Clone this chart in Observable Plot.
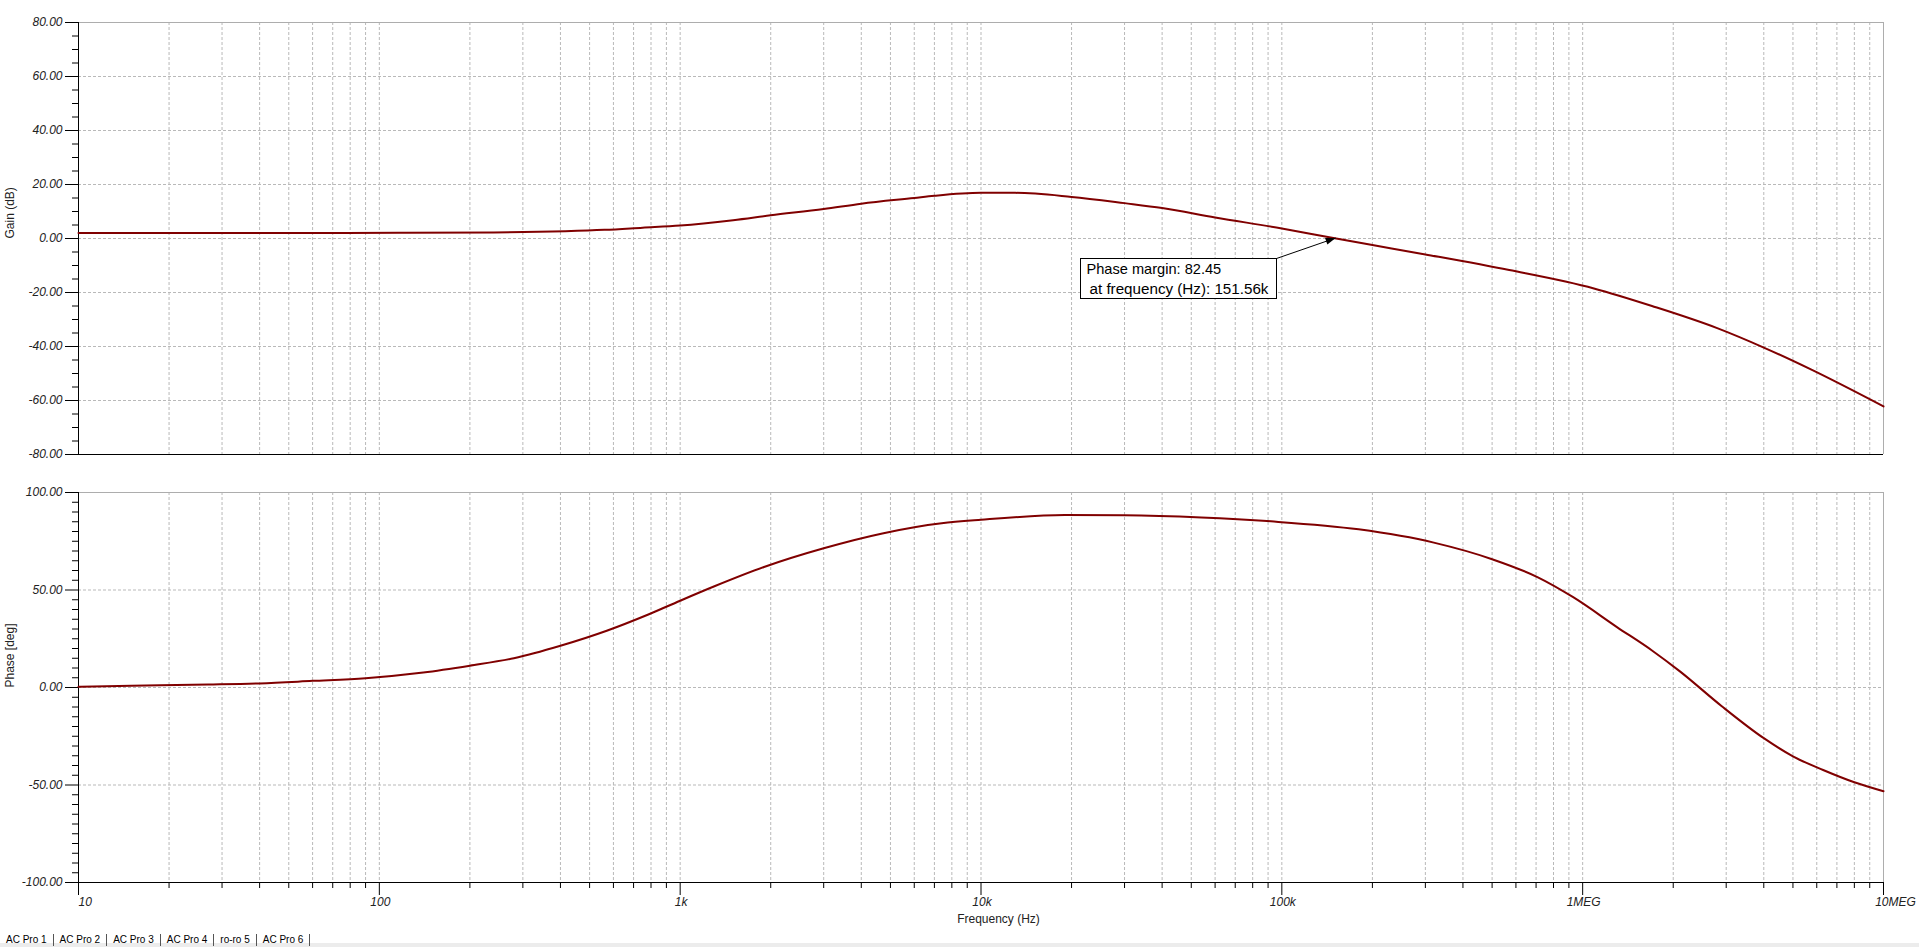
<!DOCTYPE html>
<html>
<head>
<meta charset="utf-8">
<script src="https://cdn.jsdelivr.net/npm/d3@7"></script>
<script src="https://cdn.jsdelivr.net/npm/@observablehq/plot@0.6"></script>
<style>
html, body { margin: 0; padding: 0; background: #fff; width: 1919px; height: 947px; overflow: hidden; }
#wrap { position: relative; width: 1919px; height: 947px; }
#topline { position: absolute; left: 0; top: 0; width: 1919px; height: 1px; background: #a0a0a0; }
#gainPanel, #phasePanel { position: absolute; left: 0; }
#gainPanel { top: 0; }
#phasePanel { top: 470px; }
#band { position: absolute; left: 0; top: 943px; width: 1919px; height: 4px; background: #ececec; }
#tabs { position: absolute; left: 0; top: 934px; height: 13px; overflow: hidden; font: 10px "Liberation Sans", Arial, sans-serif; color: #000; white-space: nowrap; }
#tabs span { display: inline-block; padding: 0 6px; border-right: 1px solid #555; line-height: 12px; }
</style>
</head>
<body>
<div id="wrap">
  <div id="topline"></div>
  <div id="gainPanel"></div>
  <div id="phasePanel"></div>
  <div id="band"></div>
  <div id="tabs"><span>AC Pro 1</span><span>AC Pro 2</span><span>AC Pro 3</span><span>AC Pro 4</span><span>ro-ro 5</span><span>AC Pro 6</span></div>
</div>
<script>
// ---- data ----
const gainFreq = [10, 30, 60, 117, 240, 415, 560, 750, 1000, 1500, 2000, 3000, 4000, 6000, 7000, 10000, 13000, 20000, 30000, 40000, 60000, 100000, 151560, 200000, 300000, 570000, 1090000, 1700000, 2800000, 4000000, 5760000, 10000000];
const gainDb   = [2.0, 2.0, 2.05, 2.1, 2.25, 2.7, 3.2, 4.0, 4.8, 6.8, 8.6, 10.9, 12.9, 15.0, 15.8, 16.9, 16.9, 15.4, 13.1, 11.3, 7.8, 3.7, 0.0, -2.4, -5.9, -11.7, -18.5, -25.0, -33.2, -40.4, -48.6, -62.2];

const phaseFreq = [10, 15, 27, 40, 60, 90, 140, 200, 280, 400, 570, 780, 1000, 1300, 1900, 3000, 4700, 7400, 10000, 19000, 30000, 54000, 92000, 180000, 320000, 500000, 710000, 930000, 1300000, 1700000, 2100000, 2900000, 4000000, 5000000, 6300000, 8000000, 10000000];
const phaseDeg  = [0.4, 0.9, 1.5, 2.1, 3.4, 4.8, 7.7, 11.2, 15.0, 21.4, 29.1, 37.3, 44.5, 51.9, 61.8, 71.4, 79.0, 84.2, 86.0, 88.4, 88.3, 87.2, 85.2, 81.1, 74.3, 65.8, 56.5, 46.3, 31.0, 19.0, 8.4, -9.6, -26.0, -35.3, -42.3, -48.6, -53.2];

const xMajorTicks = [10, 100, 1000, 10000, 100000, 1000000, 10000000];
const xTickLabels = ["10", "100", "1k", "10k", "100k", "1MEG", "10MEG"];
const xDomain = [10, 10000000];

const gainDomain = [-80, 80];
const gainMajor = [-80, -60, -40, -20, 0, 20, 40, 60, 80];
const gainMinorStep = 5;

const phaseDomain = [-100, 100];
const phaseMajor = [-100, -50, 0, 50, 100];
const phaseMinorStep = 5;

const pmLabel1 = "Phase margin: 82.45";
const pmLabel2 = "at frequency (Hz): 151.56k";
const pmFreq = 151560;
const pmGain = 0;

const gainTitle = "Gain (dB)";
const phaseTitle = "Phase [deg]";
const freqTitle = "Frequency (Hz)";

// ---- derived tables ----
const gainRows = gainFreq.map((f, i) => ({f, v: gainDb[i]}));
const phaseRows = phaseFreq.map((f, i) => ({f, v: phaseDeg[i]}));
const xAllTicks = [];
for (let d = 10; d < 10000000; d *= 10) for (let k = 1; k <= 9; k++) xAllTicks.push(k * d);
xAllTicks.push(10000000);
const xMinorTicks = xAllTicks.filter(v => !xMajorTicks.includes(v));
const stepRange = (a, b, s) => d3.range(a, b + s / 2, s);
const gainMinor = stepRange(gainDomain[0], gainDomain[1], gainMinorStep).filter(v => !gainMajor.includes(v));
const phaseMinor = stepRange(phaseDomain[0], phaseDomain[1], phaseMinorStep).filter(v => !phaseMajor.includes(v));
const labelOf = v => xTickLabels[xMajorTicks.indexOf(v)];

const FONT = '"Liberation Sans", Arial, sans-serif';
const LINE = "#800000";
const GRID = "#b9b9b9";
const FRAME = "#adadad";

function baseStyle() {
  return {background: "white", fontFamily: FONT, fontSize: "12px", color: "black", overflow: "visible"};
}

function panelMarks(rows, domain, major, minor, title) {
  return [
    Plot.gridX(xAllTicks, {stroke: GRID, strokeOpacity: 1, strokeDasharray: "3,2"}),
    Plot.gridY(major.filter(v => v > domain[0] && v < domain[1]), {stroke: GRID, strokeOpacity: 1, strokeDasharray: "3,2"}),
    Plot.ruleY([domain[1]], {stroke: FRAME}),
    Plot.ruleX([xDomain[1]], {stroke: FRAME}),
    Plot.ruleY([domain[0]], {stroke: "black"}),
    Plot.ruleX([xDomain[0]], {stroke: "black"}),
    Plot.axisY(major, {tickSize: 13, tickPadding: 3, tickFormat: v => v.toFixed(2), fontStyle: "italic", fill: "#222", label: null}),
    Plot.axisY(minor, {tickSize: 6, tickFormat: () => "", label: null}),
    Plot.text([title], {frameAnchor: "left", rotate: -90, dx: -68, fontSize: 12, fill: "#222"}),
    Plot.line(rows, {x: "f", y: "v", stroke: LINE, strokeWidth: 2, curve: "monotone-x"})
  ];
}

function pmAnnotation(index, scales) {
  const px = scales.x(pmFreq), py = scales.y(pmGain);
  const g = d3.create("svg:g");
  const bx = Math.round(px - 255.5) + 0.5, by = Math.round(py + 20) + 0.5;
  const bw = 196, bh = 40;
  const sx = bx + bw, sy = by;
  const tipX = px, tipY = py;
  g.append("line").attr("x1", sx).attr("y1", sy).attr("x2", tipX).attr("y2", tipY).attr("stroke", "black").attr("stroke-width", 1);
  const dx = tipX - sx, dy = tipY - sy, L = Math.hypot(dx, dy);
  const ux = dx / L, uy = dy / L, nx = -uy, ny = ux;
  const hl = 10, hw = 3.5;
  const bxh = tipX - hl * ux, byh = tipY - hl * uy;
  g.append("path")
    .attr("d", `M${tipX},${tipY}L${bxh + hw * nx},${byh + hw * ny}L${bxh - hw * nx},${byh - hw * ny}Z`)
    .attr("fill", "black");
  g.append("rect").attr("x", bx).attr("y", by).attr("width", bw).attr("height", bh)
    .attr("fill", "white").attr("stroke", "black").attr("stroke-width", 1);
  g.append("text").attr("x", bx + 6).attr("y", by + 15).attr("text-anchor", "start").attr("font-size", 14.6).attr("font-family", FONT).attr("fill", "black").text(pmLabel1);
  g.append("text").attr("x", bx + 9).attr("y", by + 35).attr("text-anchor", "start").attr("font-size", 15.2).attr("font-family", FONT).attr("fill", "black").text(pmLabel2);
  return g.node();
}

const gainChart = Plot.plot({
  width: 1919, height: 470,
  marginLeft: 78, marginRight: 36, marginTop: 22, marginBottom: 16,
  style: baseStyle(),
  x: {type: "log", domain: xDomain, axis: null},
  y: {domain: gainDomain},
  marks: [
    ...panelMarks(gainRows, gainDomain, gainMajor, gainMinor, gainTitle),
    pmAnnotation
  ]
});
document.getElementById("gainPanel").appendChild(gainChart);

const midTicks = xMajorTicks.slice(1, -1);
const phaseChart = Plot.plot({
  width: 1919, height: 470,
  marginLeft: 78, marginRight: 36, marginTop: 22, marginBottom: 58,
  style: baseStyle(),
  x: {type: "log", domain: xDomain},
  y: {domain: phaseDomain},
  marks: [
    ...panelMarks(phaseRows, phaseDomain, phaseMajor, phaseMinor, phaseTitle),
    Plot.axisX(xMajorTicks, {tickSize: 13, tickFormat: () => "", label: null}),
    Plot.axisX(xMinorTicks, {tickSize: 6, tickFormat: () => "", label: null}),
    Plot.text(midTicks, {x: d => d, text: labelOf, frameAnchor: "bottom", dy: 23.5, dx: 1, fontStyle: "italic", fill: "#222", textAnchor: "middle"}),
    Plot.text([xMajorTicks[0]], {x: d => d, text: labelOf, frameAnchor: "bottom", dy: 23.5, fontStyle: "italic", fill: "#222", textAnchor: "start"}),
    Plot.text([xMajorTicks[xMajorTicks.length - 1]], {x: d => d, text: labelOf, frameAnchor: "bottom", dy: 23.5, dx: 12, fontStyle: "italic", fill: "#222", textAnchor: "middle"}),
    Plot.text([freqTitle], {frameAnchor: "bottom", dy: 40, dx: 17.5, fill: "#222"})
  ]
});
document.getElementById("phasePanel").appendChild(phaseChart);
</script>
</body>
</html>
